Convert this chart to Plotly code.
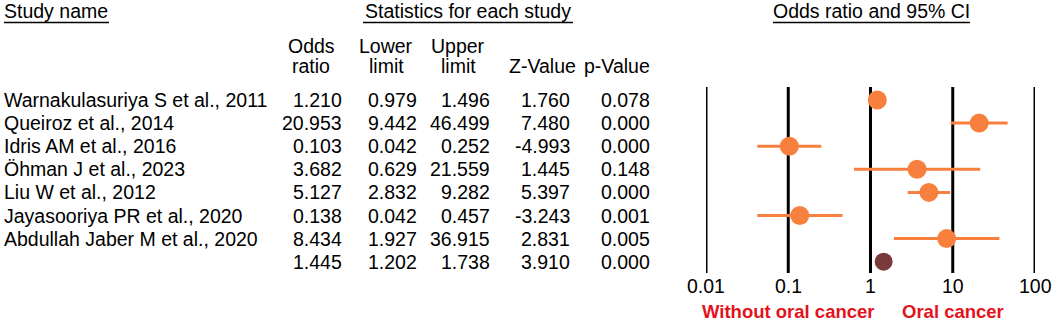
import math
import plotly.graph_objects as go

# ---------------- data ----------------
studies = [
    "Warnakulasuriya S et al., 2011",
    "Queiroz et al., 2014",
    "Idris AM et al., 2016",
    "Öhman J et al., 2023",
    "Liu W et al., 2012",
    "Jayasooriya PR et al., 2020",
    "Abdullah Jaber M et al., 2020",
]
odds_ratio = [1.210, 20.953, 0.103, 3.682, 5.127, 0.138, 8.434]
lower_limit = [0.979, 9.442, 0.042, 0.629, 2.832, 0.042, 1.927]
upper_limit = [1.496, 46.499, 0.252, 21.559, 9.282, 0.457, 36.915]
z_value = [1.760, 7.480, -4.993, 1.445, 5.397, -3.243, 2.831]
p_value = [0.078, 0.000, 0.000, 0.148, 0.000, 0.001, 0.005]

summary_or = 1.445
summary_lower = 1.202
summary_upper = 1.738
summary_z = 3.910
summary_p = 0.000

tick_vals = [0.01, 0.1, 1, 10, 100]
tick_text = ["0.01", "0.1", "1", "10", "100"]

col_headers_top = ["Odds", "Lower", "Upper", "", ""]
col_headers_bottom = ["ratio", "limit", "limit", "Z-Value", "p-Value"]
group_titles = ["Study name", "Statistics for each study", "Odds ratio and 95% CI"]
side_labels = ["Without oral cancer", "Oral cancer"]
side_label_pos = [0.1, 10]

# ---------------- layout helpers ----------------
W, H = 1055, 323
FONT = "Arial, Liberation Sans, sans-serif"
FS = 19.5
ORANGE = "#F8803E"
SUMMARY = "#7A3A3A"
RED = "#E3121B"

def px(x):
    return x / W

def py(y):
    return 1 - y / H

ROW0, ROWSTEP = 100.0, 23.1
def row_of(pixel_y):
    return (pixel_y - ROW0) / ROWSTEP

n = len(studies)
rows = list(range(n))
sum_row = n

fig = go.Figure()

# study markers with CI
fig.add_trace(go.Scatter(
    x=odds_ratio, y=rows, mode="markers",
    marker=dict(size=19, color=ORANGE, line=dict(width=0)),
    error_x=dict(type="data", symmetric=False,
                 array=[u - o for u, o in zip(upper_limit, odds_ratio)],
                 arrayminus=[o - l for o, l in zip(odds_ratio, lower_limit)],
                 color=ORANGE, thickness=3, width=0),
    cliponaxis=False, hoverinfo="skip",
))
# summary
fig.add_trace(go.Scatter(
    x=[summary_or], y=[sum_row], mode="markers",
    marker=dict(size=18, color=SUMMARY, line=dict(width=0)),
    error_x=dict(type="data", symmetric=False,
                 array=[summary_upper - summary_or],
                 arrayminus=[summary_or - summary_lower],
                 color=SUMMARY, thickness=3, width=0),
    cliponaxis=False, hoverinfo="skip",
))

shapes = []
# vertical reference lines
for tv in tick_vals:
    shapes.append(dict(type="line", xref="x", yref="y", x0=tv, x1=tv,
                       y0=row_of(87), y1=row_of(273), layer="below",
                       line=dict(color="black", width=3)))
# underlines for group titles
for x0, x1 in [(4, 109), (363, 573), (773, 970)]:
    shapes.append(dict(type="line", xref="paper", yref="paper",
                       x0=px(x0), x1=px(x1), y0=py(22.5), y1=py(22.5),
                       line=dict(color="black", width=1.5)))

ann = []
def text(x, y, s, xanchor="left", xref="paper", color="black", bold=False, size=FS):
    ann.append(dict(x=x, y=y, xref=xref, yref="y", text=f"<b>{s}</b>" if bold else s,
                    showarrow=False, xanchor=xanchor, yanchor="middle",
                    font=dict(family=FONT, size=size, color=color)))

# group titles
text(px(2), row_of(11), group_titles[0], "left")
text(px(468), row_of(11), group_titles[1], "center")
text(px(871.5), row_of(11), group_titles[2], "center")

# column headers
hdr_centers = [311, 386, 458, 542, 617]
for cx, t1, t2 in zip(hdr_centers, col_headers_top, col_headers_bottom):
    if t1:
        text(px(cx), row_of(46), t1, "center")
    if t2:
        text(px(cx), row_of(66), t2, "center")

# table body
col_right = [344, 419, 492, 572, 652]
for i in range(n):
    text(px(2), i, studies[i], "left")
    vals = [odds_ratio[i], lower_limit[i], upper_limit[i], z_value[i], p_value[i]]
    for cr, v in zip(col_right, vals):
        text(px(cr), i, f"{v:.3f}", "right")
for cr, v in zip(col_right, [summary_or, summary_lower, summary_upper, summary_z, summary_p]):
    text(px(cr), sum_row, f"{v:.3f}", "right")

# tick labels (annotations on a log axis take log10 positions)
for tv, tt in zip(tick_vals, tick_text):
    text(math.log10(tv), row_of(286), tt, "center", xref="x")

# side labels
for lbl, pos in zip(side_labels, side_label_pos):
    text(math.log10(pos), row_of(311), lbl, "center", xref="x", color=RED, bold=True, size=18.5)

fig.update_layout(
    width=W, height=H,
    margin=dict(l=0, r=0, t=0, b=0),
    paper_bgcolor="white", plot_bgcolor="white",
    showlegend=False,
    shapes=shapes, annotations=ann,
    xaxis=dict(type="log", range=[-2, 2], domain=[px(706), px(1035)],
               showgrid=False, zeroline=False, showticklabels=False,
               showline=False, ticks=""),
    yaxis=dict(range=[row_of(H), row_of(0)], domain=[0, 1],
               showgrid=False, zeroline=False, showticklabels=False,
               showline=False, ticks=""),
)

fig.write_html("out.html", config={"displayModeBar": False},
               post_script="document.body.style.margin='0';document.body.style.overflow='hidden';")
